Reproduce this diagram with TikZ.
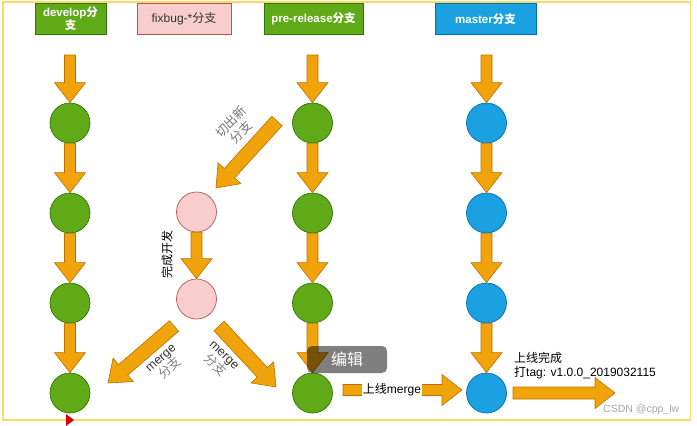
\documentclass[tikz,border=0pt]{standalone}
\usepackage{fontspec}
\setmainfont{Liberation Sans}
\newfontfamily\cjk{Noto Sans CJK SC}
\usetikzlibrary{calc}
\definecolor{grF}{HTML}{60A917}
\definecolor{grD}{HTML}{2D7600}
\definecolor{pkF}{HTML}{F8CECC}
\definecolor{pkD}{HTML}{B85450}
\definecolor{blF}{HTML}{1BA1E2}
\definecolor{blD}{HTML}{006EAF}
\definecolor{orF}{HTML}{F0A30A}
\definecolor{orD}{HTML}{BD7000}
\definecolor{frameY}{HTML}{FFD966}
\tikzset{
  x=1pt,y=1pt,
  hdr/.style={draw, line width=0.8pt, minimum height=31.5pt, inner sep=1pt, align=center,
    font=\fontsize{11.5}{14}\selectfont\bfseries, text=white},
  cgreen/.style={circle, draw=grD, fill=grF, minimum size=40pt, inner sep=0pt, line width=0.7pt},
  cpink/.style={circle, draw=pkD, fill=pkF, minimum size=40pt, inner sep=0pt, line width=0.7pt},
  cblue/.style={circle, draw=blD, fill=blF, minimum size=40pt, inner sep=0pt, line width=0.7pt},
  barrowst/.style={fill=orF, draw=orD, line width=0.6pt, line join=miter},
  lbl/.style={font=\fontsize{12}{14}\selectfont, inner sep=0pt, align=center}
}
% block arrow: [shaft half width]{from}{to}
\newcommand\barrow[3][5.5]{%
  \draw[barrowst] let \p1=($(#3)-(#2)$), \n1={atan2(\y1,\x1)}, \n2={veclen(\x1,\y1)} in
  [shift={(#2)}, rotate=\n1] (0pt,-#1pt) -- (\n2-20pt,-#1pt) -- (\n2-20pt,-15.5pt) -- (\n2,0pt)
  -- (\n2-20pt,15.5pt) -- (\n2-20pt,#1pt) -- (0pt,#1pt) -- cycle;}
\begin{document}
\begin{tikzpicture}
\useasboundingbox (0,0) rectangle (697,-426);
% frame
\draw[frameY, line width=1.6pt] (3,-2) rectangle (690.5,-420);
% headers
\node[hdr, fill=grF, draw=grD, minimum width=71pt] (hd) at (70.5,-18.75) {develop{\cjk 分}\\[-1pt]{\cjk 支}};
\node[hdr, fill=pkF, draw=pkD, minimum width=94pt, text=black!80, font=\fontsize{12}{14}\selectfont] (hf) at (184,-18.75) {fixbug-*{\cjk 分支}};
\node[hdr, fill=grF, draw=grD, minimum width=99pt] (hp) at (313.5,-18.75) {pre-release{\cjk 分支}};
\node[hdr, fill=blF, draw=blD, minimum width=101pt] (hm) at (485.5,-18.75) {master{\cjk 分支}};
% circles
\foreach \i/\y in {1/123,2/213,3/303,4/393}{
  \node[cgreen] (d\i) at (70,-\y) {};
  \node[cgreen] (r\i) at (312.5,-\y) {};
  \node[cblue] (m\i) at (486.5,-\y) {};
}
\node[cpink] (p1) at (196.5,-212) {};
\node[cpink] (p2) at (196.5,-299) {};
% start coordinates below headers
\coordinate (hd0) at (70,-55);
\coordinate (hp0) at (312.5,-55);
\coordinate (hm0) at (486.5,-55);
% vertical arrows
\barrow{hd0}{d1.north}
\barrow{hp0}{r1.north}
\barrow{hm0}{m1.north}
\foreach \a/\b in {1/2,2/3,3/4}{
  \barrow{d\a.south}{d\b.north}
  \barrow{r\a.south}{r\b.north}
  \barrow{m\a.south}{m\b.north}
}
\barrow{p1.south}{p2.north}
% diagonal arrows
\coordinate (cutA) at (277,-121);
\coordinate (cutB) at (216,-188);
\barrow[7]{cutA}{cutB}
\coordinate (mlA) at (174,-326);
\coordinate (mlB) at (108,-383);
\barrow[7]{mlA}{mlB}
\coordinate (mrA) at (219,-326);
\coordinate (mrB) at (276,-387);
\barrow[7]{mrA}{mrB}
% horizontal arrows
\coordinate (upA) at (343,-390);
\coordinate (upB) at (462,-390);
\barrow{upA}{upB}
\coordinate (fnA) at (513,-393);
\coordinate (fnB) at (615,-393);
\barrow[6]{fnA}{fnB}
% labels
\node[lbl, rotate=45, text=black!55, font=\fontsize{12.5}{14}\selectfont] (lcut) at (236,-127) {{\cjk 切出新}\\{\cjk 分支}};
\node[lbl, rotate=90] (ldone) at (167,-254) {\cjk 完成开发};
\node[lbl, rotate=41, font=\fontsize{12.5}{14}\selectfont] (lml) at (166,-364) {\textcolor{black!80}{merge}\\\textcolor{black!50}{\cjk 分支}};
\node[lbl, rotate=-43, font=\fontsize{12.5}{14}\selectfont] (lmr) at (219,-361) {\textcolor{black!80}{merge}\\\textcolor{black!50}{\cjk 分支}};
\node[lbl, fill=white, inner sep=1pt] (lup) at (392,-390) {{\cjk 上线}merge};
\node[lbl, anchor=west, align=left] (lfin) at (514,-366) {{\cjk 上线完成}\\{\cjk 打}tag: v1.0.0\_2019032115};
% overlay artifacts
\node[fill=black, fill opacity=0.5, rounded corners=5pt, minimum width=80pt, minimum height=27pt, inner sep=0pt] (edit) at (347,-359.5) {};
\node[text=white, font=\fontsize{16}{17}\selectfont] (editt) at (347,-359.5) {\cjk 编辑};
\node[lbl, text=black!35, anchor=west, font=\fontsize{10.5}{12}\selectfont] (wm) at (603,-410) {CSDN @cpp\_lw};
\fill[red!85!black] (66,-414) -- (74,-420) -- (66,-426) -- cycle;
\end{tikzpicture}
\end{document}
